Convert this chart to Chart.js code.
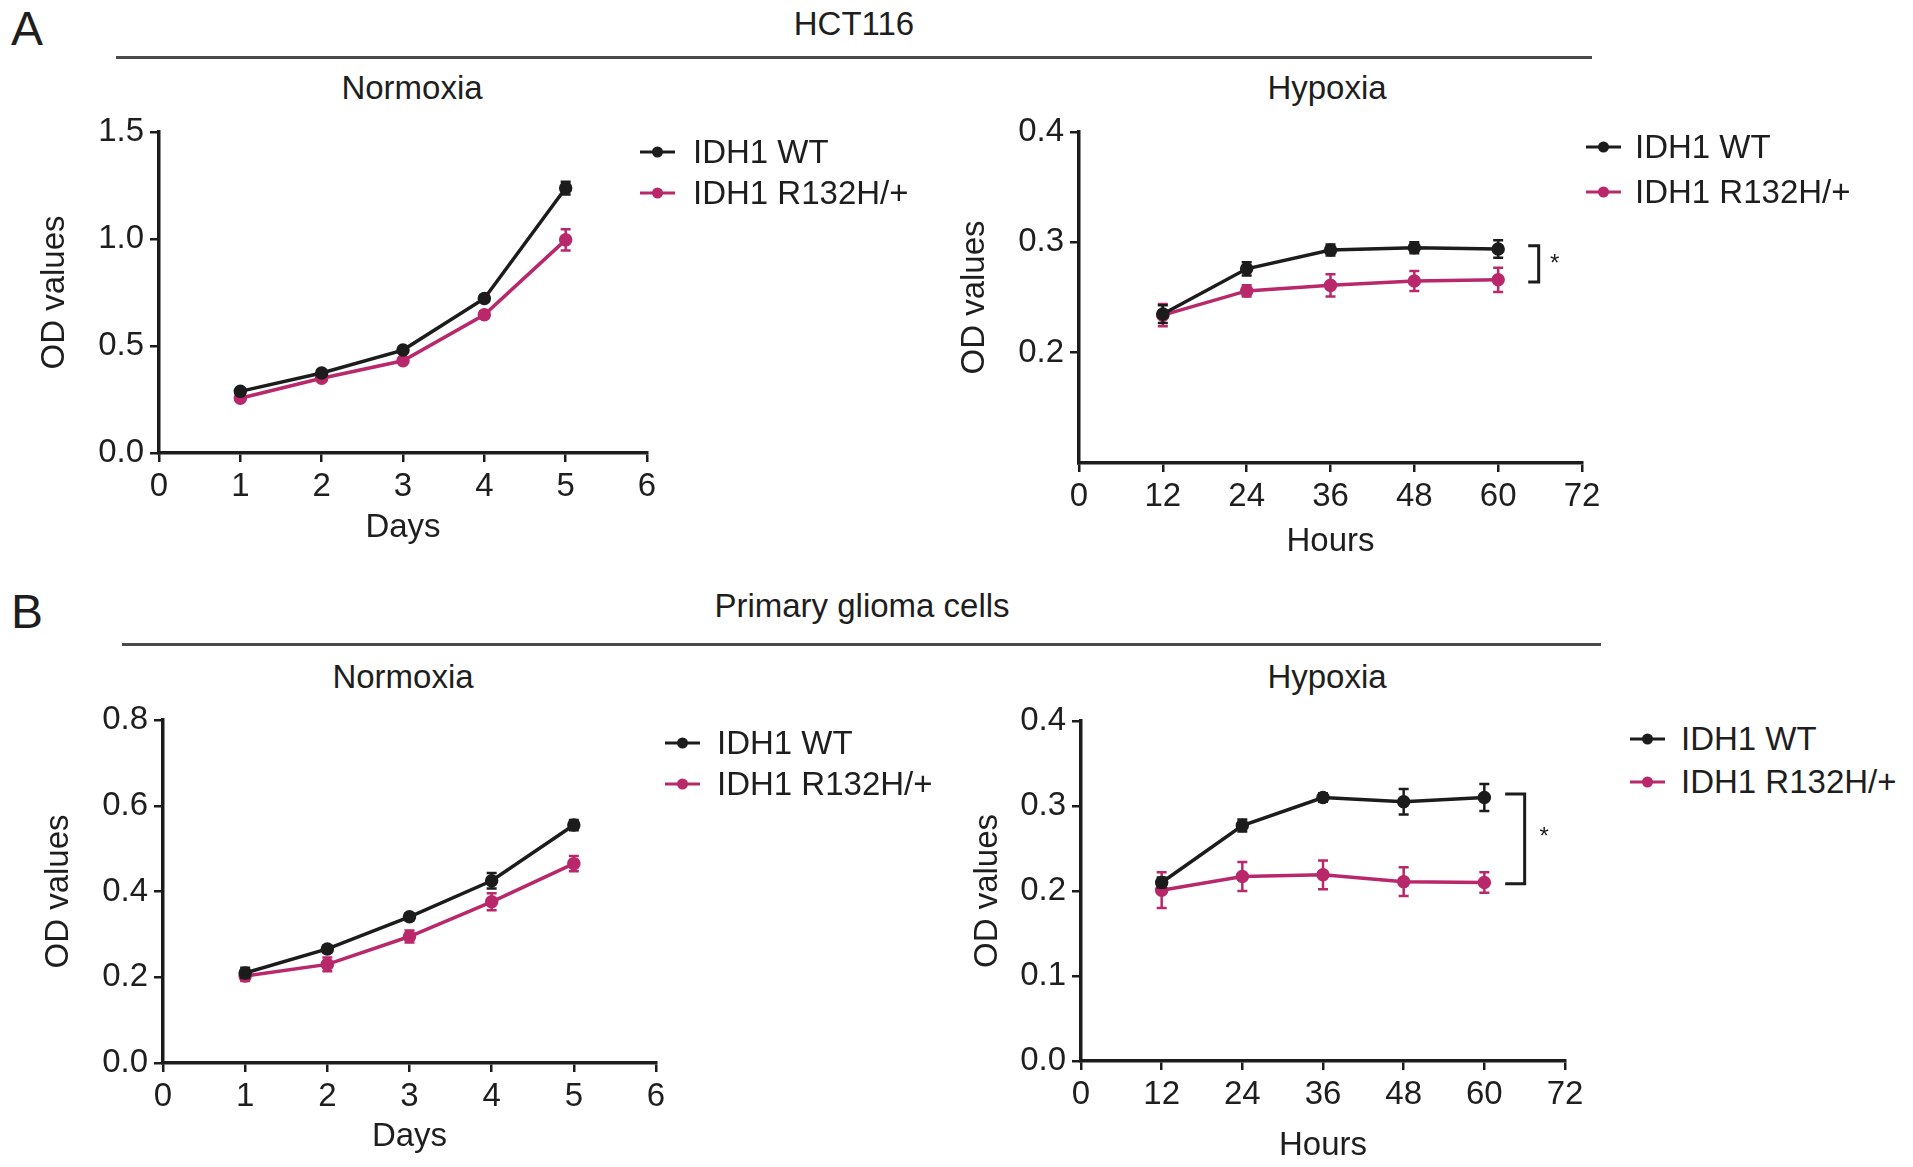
<!DOCTYPE html>
<html>
<head>
<meta charset="utf-8">
<script src="https://cdn.jsdelivr.net/npm/chart.js@4.4.1/dist/chart.umd.min.js"></script>
<style>
  body { margin: 0; width: 1913px; height: 1167px; background: #fff; position: relative; overflow: hidden;
         font-family: "Liberation Sans", Arial, sans-serif; color: #1e1e1e; }
  .txt { position: absolute; font-size: 33px; white-space: nowrap; transform: translate(-50%, -50%); }
  .panel-letter { position: absolute; font-size: 48px; transform: translate(-50%, -50%); }
  .rule { position: absolute; height: 3px; background: #4a4a4a; }
  .box { position: absolute; }
  .leg { position: absolute; font-size: 33px; white-space: nowrap; transform: translateY(-50%); }
  .mk { position: absolute; width: 35px; height: 3px; transform: translateY(-50%); }
  .mk::after { content: ""; position: absolute; left: 12px; top: -4px; width: 11px; height: 11px; border-radius: 50%; background: inherit; }
</style>
</head>
<body>

<div class="panel-letter" style="left:27px;top:28px">A</div>
<div class="txt" style="left:854px;top:24px">HCT116</div>
<div class="rule" style="left:116px;top:56px;width:1476px"></div>
<div class="txt" style="left:412px;top:88px">Normoxia</div>
<div class="txt" style="left:1327px;top:88px">Hypoxia</div>

<div class="panel-letter" style="left:27px;top:611px">B</div>
<div class="txt" style="left:862px;top:606px">Primary glioma cells</div>
<div class="rule" style="left:122px;top:643px;width:1479px"></div>
<div class="txt" style="left:403px;top:677px">Normoxia</div>
<div class="txt" style="left:1327px;top:677px">Hypoxia</div>

<div class="box" style="left:35px;top:102px;width:652px;height:446px"><canvas id="aNorm"></canvas></div>
<div class="box" style="left:955px;top:102px;width:667px;height:460px"><canvas id="aHyp"></canvas></div>
<div class="box" style="left:39px;top:690px;width:657px;height:467px"><canvas id="bNorm"></canvas></div>
<div class="box" style="left:968px;top:691px;width:637px;height:475px"><canvas id="bHyp"></canvas></div>

<script>
// kategori sumbu x
const days = [1, 2, 3, 4, 5];
const hours = [12, 24, 36, 48, 60];
const seriesNames = ['IDH1 WT', 'IDH1 R132H/+'];

// A: HCT116, normoksia
const hctNormWT = [0.288, 0.374, 0.481, 0.722, 1.238];
const hctNormWTErr = [0.012, 0.010, 0.012, 0.015, 0.030];
const hctNormMut = [0.256, 0.349, 0.431, 0.646, 0.996];
const hctNormMutErr = [0.012, 0.010, 0.012, 0.015, 0.050];

// A: HCT116, hipoksia
const hctHypWT = [0.235, 0.276, 0.293, 0.295, 0.294];
const hctHypWTErr = [0.008, 0.006, 0.005, 0.005, 0.008];
const hctHypMut = [0.234, 0.256, 0.261, 0.265, 0.266];
const hctHypMutErr = [0.010, 0.005, 0.010, 0.009, 0.011];

// B: sel glioma primer, normoksia
const gliNormWT = [0.210, 0.266, 0.341, 0.425, 0.555];
const gliNormWTErr = [0.012, 0.008, 0.008, 0.018, 0.012];
const gliNormMut = [0.203, 0.230, 0.295, 0.376, 0.465];
const gliNormMutErr = [0.012, 0.016, 0.014, 0.020, 0.018];

// B: sel glioma primer, hipoksia
const gliHypWT = [0.210, 0.277, 0.310, 0.305, 0.310];
const gliHypWTErr = [0.006, 0.007, 0.005, 0.015, 0.016];
const gliHypMut = [0.201, 0.217, 0.219, 0.211, 0.210];
const gliHypMutErr = [0.021, 0.017, 0.017, 0.017, 0.012];

const BLACK = '#1c1c1c';
const MAGENTA = '#b8286a';
const FONT = '"Liberation Sans", Arial, sans-serif';

Chart.defaults.font.family = FONT;
Chart.defaults.font.size = 33;
Chart.defaults.color = '#1e1e1e';

// garis error bar, digambar setelah tiap dataset
const errorBars = {
  id: 'errorBars',
  afterDatasetDraw(chart, args) {
    const ds = chart.data.datasets[args.index];
    if (!ds.errors) return;
    const { ctx, scales: { x, y } } = chart;
    ctx.save();
    ctx.strokeStyle = ds.borderColor;
    ctx.lineWidth = 2.5;
    ds.data.forEach((p, i) => {
      const px = x.getPixelForValue(p.x);
      const yHi = y.getPixelForValue(p.y + ds.errors[i]);
      const yLo = y.getPixelForValue(p.y - ds.errors[i]);
      ctx.beginPath();
      ctx.moveTo(px, yHi); ctx.lineTo(px, yLo);
      ctx.moveTo(px - 5, yHi); ctx.lineTo(px + 5, yHi);
      ctx.moveTo(px - 5, yLo); ctx.lineTo(px + 5, yLo);
      ctx.stroke();
    });
    ctx.restore();
  }
};

// kurung signifikansi + bintang
const sigBracket = {
  id: 'sigBracket',
  afterDraw(chart, args, opts) {
    if (!opts || opts.x0 === undefined) return;
    const { ctx, scales: { x, y } } = chart;
    const x0 = x.getPixelForValue(opts.x0), x1 = x.getPixelForValue(opts.x1);
    const yt = y.getPixelForValue(opts.top), yb = y.getPixelForValue(opts.bottom);
    ctx.save();
    ctx.strokeStyle = BLACK;
    ctx.lineWidth = 3;
    ctx.beginPath();
    ctx.moveTo(x0, yt); ctx.lineTo(x1, yt); ctx.lineTo(x1, yb); ctx.lineTo(x0, yb);
    ctx.stroke();
    ctx.fillStyle = BLACK;
    ctx.font = '24px ' + FONT;
    ctx.textAlign = 'center';
    ctx.textBaseline = 'middle';
    ctx.fillText('*', x.getPixelForValue(opts.starX), y.getPixelForValue(opts.starY));
    ctx.restore();
  }
};

function points(xs, ys) {
  return xs.map((v, i) => ({ x: v, y: ys[i] }));
}

function series(label, xs, ys, errs, color) {
  return {
    label: label,
    data: points(xs, ys),
    errors: errs,
    borderColor: color,
    backgroundColor: color,
    borderWidth: 3.5,
    pointRadius: 5,
    pointHoverRadius: 5,
    tension: 0
  };
}

function axisStyle() {
  return {
    grid: { display: true, drawOnChartArea: false, drawTicks: true, tickLength: 9, lineWidth: 2.5, color: BLACK },
    border: { display: true, color: BLACK, width: 3.5 }
  };
}

function makeChart(id, cfg) {
  const xAxis = Object.assign(axisStyle(), {
    type: 'linear',
    min: cfg.xMin, max: cfg.xMax,
    ticks: { stepSize: cfg.xStep, padding: 5, color: '#1e1e1e' },
    title: { display: true, text: cfg.xTitle, padding: 0, color: '#1e1e1e' },
    afterFit: s => { s.height = cfg.xH; }
  });
  const yAxis = Object.assign(axisStyle(), {
    min: cfg.yMin, max: cfg.yMax,
    ticks: { stepSize: cfg.yStep, padding: 6, color: '#1e1e1e', callback: v => v.toFixed(1) },
    title: { display: true, text: 'OD values', padding: 0, color: '#1e1e1e' },
    afterBuildTicks: s => { s.ticks = s.ticks.filter(t => t.value >= cfg.yFirstLabel - 1e-9); },
    afterFit: s => { s.width = cfg.yW; }
  });
  return new Chart(document.getElementById(id), {
    type: 'line',
    data: {
      datasets: [
        series(seriesNames[0], cfg.xs, cfg.wt, cfg.wtErr, BLACK),
        series(seriesNames[1], cfg.xs, cfg.mut, cfg.mutErr, MAGENTA)
      ]
    },
    options: {
      responsive: true,
      maintainAspectRatio: false,
      animation: false,
      layout: { padding: { top: 30, right: 40, left: 0, bottom: 0 } },
      plugins: {
        legend: { display: false },
        tooltip: { enabled: false },
        sigBracket: cfg.bracket || {}
      },
      scales: { x: xAxis, y: yAxis }
    },
    plugins: [errorBars, sigBracket]
  });
}

makeChart('aNorm', {
  xs: days, wt: hctNormWT, wtErr: hctNormWTErr, mut: hctNormMut, mutErr: hctNormMutErr,
  xMin: 0, xMax: 6, xStep: 1, xTitle: 'Days', xH: 95,
  yMin: 0, yMax: 1.5, yStep: 0.5, yFirstLabel: 0, yW: 124
});

makeChart('aHyp', {
  xs: hours, wt: hctHypWT, wtErr: hctHypWTErr, mut: hctHypMut, mutErr: hctHypMutErr,
  xMin: 0, xMax: 72, xStep: 12, xTitle: 'Hours', xH: 99,
  yMin: 0.1, yMax: 0.4, yStep: 0.1, yFirstLabel: 0.2, yW: 124,
  bracket: { x0: 64.3, x1: 65.8, top: 0.297, bottom: 0.264, starX: 68.1, starY: 0.28 }
});

makeChart('bNorm', {
  xs: days, wt: gliNormWT, wtErr: gliNormWTErr, mut: gliNormMut, mutErr: gliNormMutErr,
  xMin: 0, xMax: 6, xStep: 1, xTitle: 'Days', xH: 94,
  yMin: 0, yMax: 0.8, yStep: 0.2, yFirstLabel: 0, yW: 124
});

makeChart('bHyp', {
  xs: hours, wt: gliHypWT, wtErr: gliHypWTErr, mut: gliHypMut, mutErr: gliHypMutErr,
  xMin: 0, xMax: 72, xStep: 12, xTitle: 'Hours', xH: 105,
  yMin: 0, yMax: 0.4, yStep: 0.1, yFirstLabel: 0, yW: 113,
  bracket: { x0: 63.1, x1: 66.0, top: 0.314, bottom: 0.2085, starX: 68.9, starY: 0.263 }
});

// legenda HTML
const legendSpots = [
  { x: 640, rows: [152, 193], tx: 693 },
  { x: 1586, rows: [147, 192], tx: 1635 },
  { x: 665, rows: [743, 784], tx: 717 },
  { x: 1630, rows: [739, 782], tx: 1681 }
];
const legendColors = [BLACK, MAGENTA];
legendSpots.forEach(spot => {
  seriesNames.forEach((name, i) => {
    const mk = document.createElement('div');
    mk.className = 'mk';
    mk.style.left = spot.x + 'px';
    mk.style.top = spot.rows[i] + 'px';
    mk.style.background = legendColors[i];
    document.body.appendChild(mk);
    const t = document.createElement('div');
    t.className = 'leg';
    t.style.left = spot.tx + 'px';
    t.style.top = spot.rows[i] + 'px';
    t.textContent = name;
    document.body.appendChild(t);
  });
});
</script>
</body>
</html>
